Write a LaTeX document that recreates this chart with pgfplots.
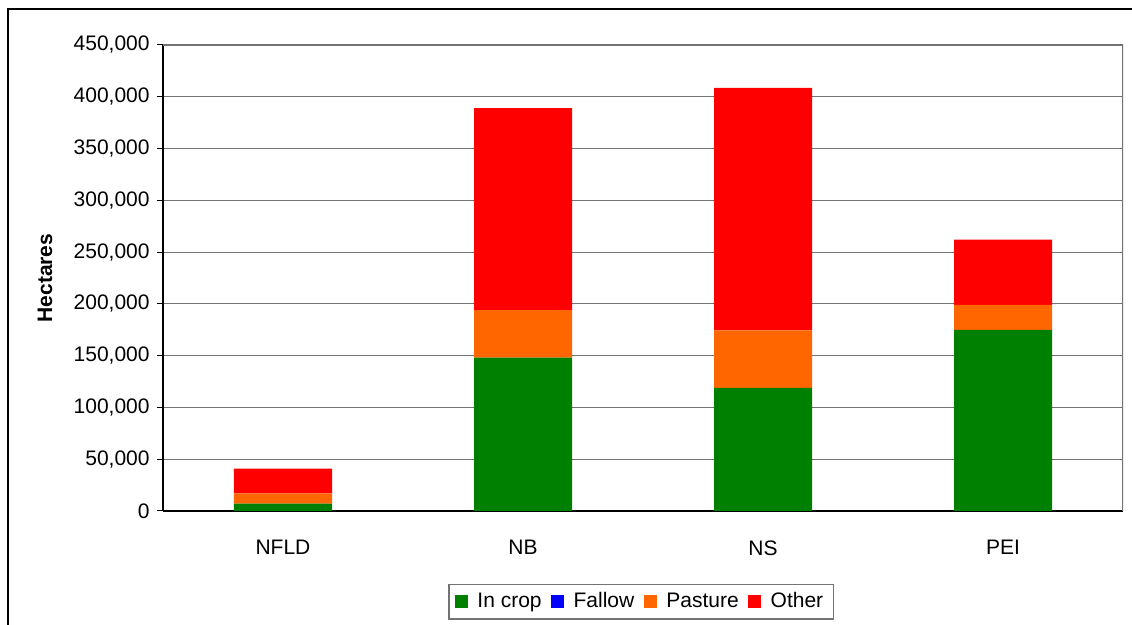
\documentclass[border=0pt]{standalone}
\usepackage{pgfplots}
\pgfplotsset{compat=1.18}
\usepackage{fontspec}
\setmainfont{Liberation Sans}
\definecolor{cgreen}{RGB}{0,128,0}
\definecolor{cblue}{RGB}{0,0,255}
\definecolor{corange}{RGB}{255,102,0}
\definecolor{cred}{RGB}{255,0,0}
\begin{document}
\fontsize{10.5}{12}\selectfont
\begin{tikzpicture}
\path[use as bounding box] (0pt,0pt) rectangle (566pt,312.5pt);
\draw[line width=1pt] (4pt,0pt) -- (4pt,308pt) -- (566pt,308pt);
\begin{axis}[
  at={(81.5pt,57pt)}, anchor=south west,
  scale only axis, width=480pt, height=233pt,
  ybar stacked, bar width=49pt,
  xmin=-0.5, xmax=3.5, ymin=0, ymax=450000,
  xtick={0,1,2,3}, xticklabels={NFLD,NB,NS,PEI},
  xtick style={draw=none},
  xticklabel style={yshift=-8pt},
  ytick={0,50000,...,450000},
  scaled y ticks=false,
  yticklabel style={/pgf/number format/.cd, fixed, 1000 sep={,}, assume math mode=true},
  tick align=outside, major tick length=3pt,
  ytick style={black, line width=0.5pt},
  axis x line*=bottom, axis y line*=left,
  axis line style={black, line width=0.6pt},
  ymajorgrids, major grid style={black!55, line width=0.5pt},
  ylabel={\bfseries Hectares}, ylabel style={at={(axis description cs:-0.123,0.5)}, anchor=center},
  legend columns=-1,
  legend style={at={(0.498,-0.195)}, anchor=center, draw=black!55, line width=0.6pt,
    inner xsep=3pt, inner ysep=2pt, /tikz/column sep=2.75pt},
  legend image code/.code={\fill[#1,draw=none] (0pt,-3.25pt) rectangle (6.5pt,3.25pt);},
]
\addplot[fill=cgreen, draw=none] coordinates {(0,7000) (1,148000) (2,119000) (3,175000)};
\addplot[fill=cblue, draw=none] coordinates {(0,0) (1,0) (2,0) (3,0)};
\addplot[fill=corange, draw=none] coordinates {(0,10000) (1,46000) (2,55500) (3,24000)};
\addplot[fill=cred, draw=none] coordinates {(0,24000) (1,195000) (2,234000) (3,63000)};
\legend{In crop, Fallow, Pasture, Other}
\draw[black!55, line width=0.6pt] (rel axis cs:0,1) -- (rel axis cs:1,1) -- (rel axis cs:1,0);
\end{axis}
\end{tikzpicture}
\end{document}
